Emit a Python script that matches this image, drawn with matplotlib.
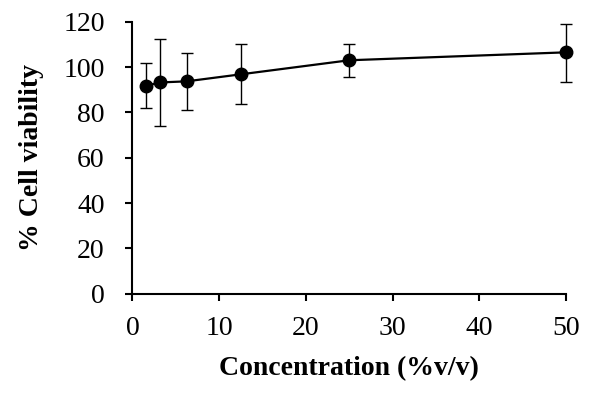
import matplotlib
matplotlib.use("Agg")
from matplotlib import pyplot as plt

# concentrations (%v/v) and viability (%)
conc = [1.5625, 3.125, 6.25, 12.5, 25, 50]
viability = [91.7, 93.2, 93.7, 96.8, 103.0, 106.5]
err_upper = [101.9, 112.2, 106.3, 110.0, 110.0, 118.8]
err_lower = [81.8, 74.0, 81.2, 83.7, 95.7, 93.4]

yerr = [[v - lo for v, lo in zip(viability, err_lower)],
        [hi - v for v, hi in zip(viability, err_upper)]]

plt.rcParams['font.family'] = ['Liberation Serif', 'DejaVu Serif']

fig = plt.figure(figsize=(6.06, 3.99), dpi=100)
ax = fig.add_axes([0.2185, 0.264, 0.7155, 0.6815])

ax.errorbar(conc, viability, yerr=yerr, color='black', lw=1.6,
            marker='o', ms=9, elinewidth=1.0, capsize=4, capthick=1.0,
            clip_on=False, zorder=3)

ax.set_xlim(0, 50)
ax.set_ylim(0, 120)
ax.set_xticks(range(0, 51, 10))
ax.set_yticks(range(0, 121, 20))

# only left and bottom axes
ax.spines['top'].set_visible(False)
ax.spines['right'].set_visible(False)
ax.spines['left'].set_linewidth(1.5)
ax.spines['bottom'].set_linewidth(1.5)
ax.tick_params(direction='out', length=5, width=1.5, labelsize=20)
ax.tick_params(axis='x', pad=11)
ax.tick_params(axis='y', pad=15)

ax.set_xlabel('Concentration (%v/v)', fontsize=20, fontweight='bold', labelpad=11)
ax.set_ylabel('% Cell viability', fontsize=20, fontweight='bold', labelpad=14)

fig.savefig('out.png', dpi=100)
